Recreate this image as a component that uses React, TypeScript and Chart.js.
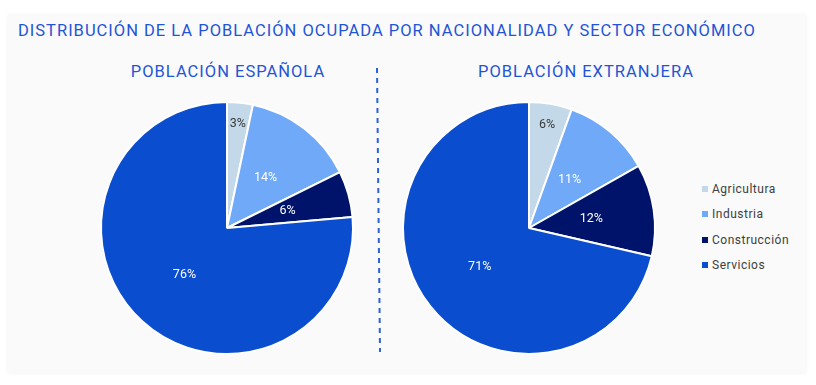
import React, { useEffect, useRef } from "react";
import { Chart, registerables } from "chart.js";

Chart.register(...registerables);

const title = "DISTRIBUCIÓN DE LA POBLACIÓN OCUPADA POR NACIONALIDAD Y SECTOR ECONÓMICO";
const subtitleSpanish = "POBLACIÓN ESPAÑOLA";
const subtitleForeign = "POBLACIÓN EXTRANJERA";
const categories = ["Agricultura", "Industria", "Construcción", "Servicios"];
const spanishValues = [3.3, 14.4, 5.9, 76.4];
const foreignValues = [5.5, 11.3, 11.8, 71.4];
const colors = ["#c3d8e8", "#70a9f7", "#00136a", "#0a4ecf"];
const labelColors = ["#3a3a3a", "#ffffff", "#ffffff", "#ffffff"];

const FONT = "Roboto, 'Noto Sans', sans-serif";
const BLUE = "#1f55d6";

const labelPlugin = {
  id: "sliceLabels",
  afterDatasetsDraw(chart: any) {
    const ctx = chart.ctx;
    const meta = chart.getDatasetMeta(0);
    const data = chart.data.datasets[0].data as number[];
    const total = data.reduce((a: number, b: number) => a + b, 0);
    ctx.save();
    ctx.font = "12.5px " + FONT;
    ctx.textAlign = "center";
    ctx.textBaseline = "middle";
    meta.data.forEach((arc: any, i: number) => {
      const p = arc.getProps(["x", "y", "startAngle", "endAngle", "outerRadius"], true);
      const pct = (data[i] / total) * 100;
      const mid = (p.startAngle + p.endAngle) / 2;
      const f = pct < 5.7 ? 0.83 : 0.5;
      ctx.fillStyle = labelColors[i];
      ctx.fillText(
        Math.round(pct) + "%",
        p.x + Math.cos(mid) * p.outerRadius * f,
        p.y + Math.sin(mid) * p.outerRadius * f
      );
    });
    ctx.restore();
  },
};

function PieCanvas({ values, left, top }: { values: number[]; left: number; top: number }) {
  const ref = useRef<HTMLCanvasElement | null>(null);
  useEffect(() => {
    if (!ref.current) return;
    const chart = new Chart(ref.current, {
      type: "pie",
      data: {
        labels: categories,
        datasets: [
          {
            data: values,
            backgroundColor: colors,
            borderColor: "#ffffff",
            borderWidth: 2,
            radius: 126,
          } as any,
        ],
      },
      options: {
        responsive: false,
        animation: false,
        layout: { padding: 0 },
        plugins: {
          legend: { display: false },
          tooltip: { enabled: false },
        },
      },
      plugins: [labelPlugin],
    });
    return () => chart.destroy();
  }, [values]);
  return (
    <canvas
      ref={ref}
      width={260}
      height={260}
      style={{ position: "absolute", left, top, width: 260, height: 260 }}
    />
  );
}

const headStyle: React.CSSProperties = {
  position: "absolute",
  fontSize: 16.5,
  lineHeight: "20px",
  color: BLUE,
  whiteSpace: "nowrap",
  letterSpacing: 1,
};

export default function App() {
  const legendTops = [189, 214, 240, 265];
  return (
    <div
      style={{
        position: "fixed",
        left: 0,
        top: 0,
        width: 816,
        height: 385,
        background: "#ffffff",
        overflow: "hidden",
        fontFamily: FONT,
      }}
    >
      <div
        style={{
          position: "absolute",
          left: 8,
          top: 15,
          width: 798,
          height: 358,
          background: "#fafafa",
          boxShadow: "0 0 4px rgba(0,0,0,0.06)",
        }}
      />
      <div style={{ ...headStyle, left: 18, top: 21 }}>{title}</div>
      <div style={{ ...headStyle, left: 118, width: 220, top: 62, textAlign: "center" }}>
        {subtitleSpanish}
      </div>
      <div style={{ ...headStyle, left: 466, width: 240, top: 62, textAlign: "center" }}>
        {subtitleForeign}
      </div>
      <svg width={816} height={385} style={{ position: "absolute", left: 0, top: 0 }}>
        <line
          x1={377}
          y1={68}
          x2={380}
          y2={352}
          stroke="#2d62d6"
          strokeWidth={2}
          strokeDasharray="5 5"
        />
      </svg>
      <PieCanvas values={spanishValues} left={97} top={98} />
      <PieCanvas values={foreignValues} left={399} top={98} />
      {categories.map((c, i) => (
        <div
          key={c}
          style={{
            position: "absolute",
            left: 702,
            top: legendTops[i] - 8,
            height: 16,
            lineHeight: "16px",
            fontSize: 12,
            letterSpacing: 0.5,
            color: "#404040",
            whiteSpace: "nowrap",
            display: "flex",
            alignItems: "center",
          }}
        >
          <span
            style={{
              display: "inline-block",
              width: 6,
              height: 6,
              background: colors[i],
              marginRight: 4,
            }}
          />
          {c}
        </div>
      ))}
    </div>
  );
}
